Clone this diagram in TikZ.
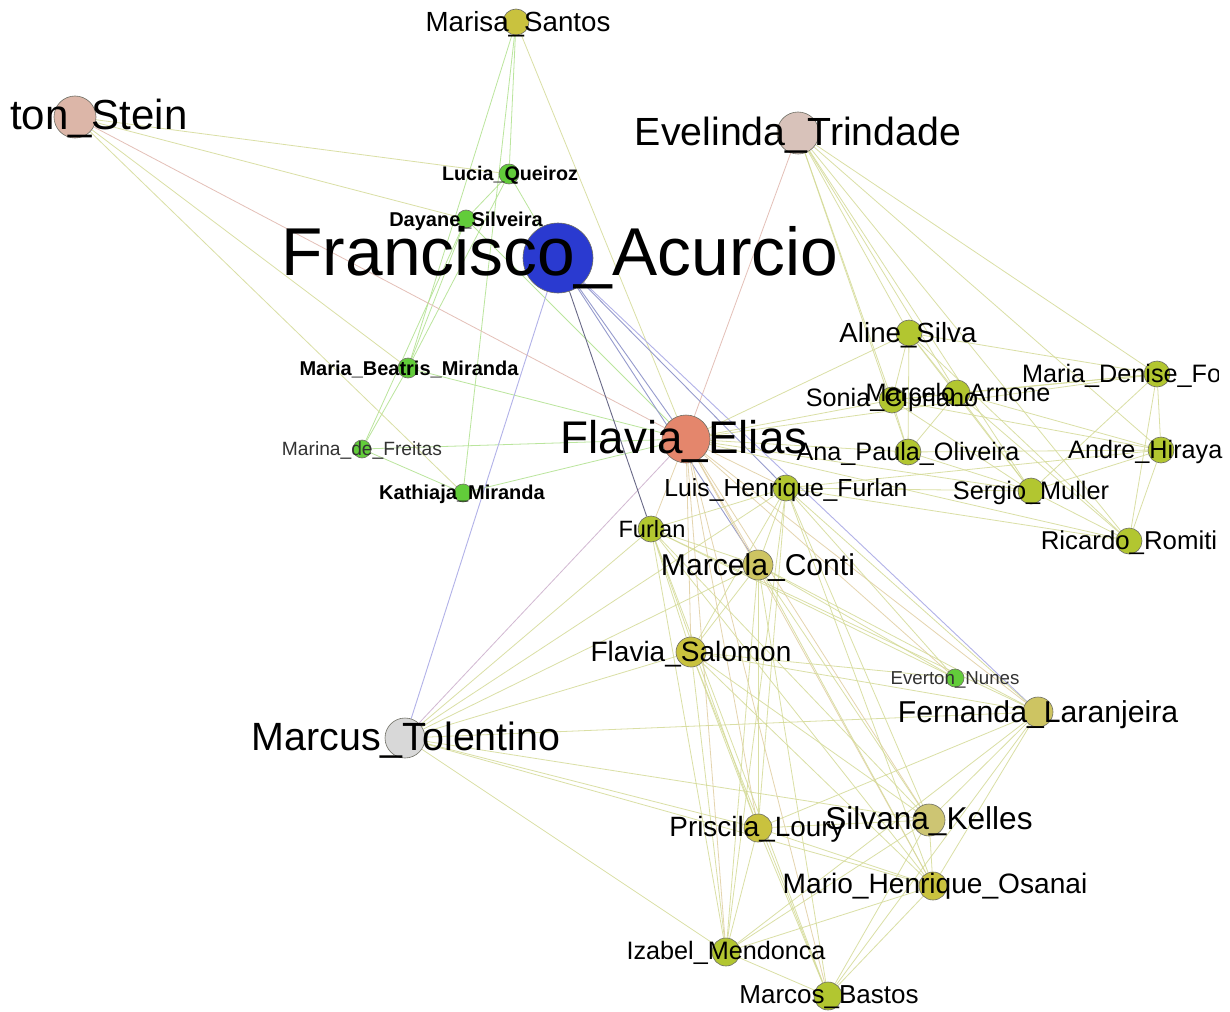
\documentclass[tikz,border=0pt]{standalone}
\usepackage{fontspec}
\setmainfont{Liberation Sans}
\usetikzlibrary{backgrounds}
\definecolor{cY}{RGB}{201,194,62}
\definecolor{cYG}{RGB}{178,198,48}
\definecolor{cYL}{RGB}{205,196,98}
\definecolor{cSK}{RGB}{205,197,115}
\definecolor{cG}{RGB}{98,204,58}
\definecolor{cB}{RGB}{42,58,208}
\definecolor{cFE}{RGB}{228,134,108}
\definecolor{cST}{RGB}{220,182,168}
\definecolor{cEV}{RGB}{216,194,186}
\definecolor{cMT}{RGB}{216,216,216}
\definecolor{ndline}{RGB}{110,110,100}
\definecolor{edY}{RGB}{212,218,150}
\definecolor{edG}{RGB}{175,225,140}
\definecolor{edP}{RGB}{228,192,184}
\definecolor{edPu}{RGB}{210,185,210}
\definecolor{edB}{RGB}{178,178,232}
\definecolor{edBG}{RGB}{150,155,205}
\definecolor{edD}{RGB}{105,105,135}
\definecolor{edT}{RGB}{224,205,160}
\definecolor{txG}{RGB}{50,50,50}
\newcommand{\fsz}[1]{\fontsize{#1}{#1}\selectfont}
\begin{document}
\begin{tikzpicture}[x=1pt,y=-1pt,
  nd/.style={circle,draw=ndline,line width=0.6pt,inner sep=0pt,minimum size=#1},
  lab/.style={anchor=base,inner sep=0pt,text=black},
  labw/.style={anchor=base west,inner sep=0pt,text=black},
  eY/.style={draw=edY,line width=0.8pt,opacity=0.85},
  eG/.style={draw=edG,line width=0.8pt,opacity=0.85},
  eP/.style={draw=edP,line width=0.8pt},
  ePu/.style={draw=edPu,line width=0.8pt},
  eB/.style={draw=edB,line width=0.9pt},
  eBG/.style={draw=edBG,line width=0.9pt},
  eD/.style={draw=edD,line width=0.9pt},
  eT/.style={draw=edT,line width=0.8pt,opacity=0.85}]
\useasboundingbox (0,0) rectangle (1230,1011);

% ---------- nodes ----------
\node[nd=26,fill=cY]  (ms)  at (516,22)  {};
\node[nd=42,fill=cST] (st)  at (75,117)  {};
\node[nd=42,fill=cEV] (ev)  at (798,133) {};
\node[nd=20,fill=cG]  (lq)  at (509,174) {};
\node[nd=18,fill=cG]  (ds)  at (466,219) {};
\node[nd=70,fill=cB]  (fa)  at (558,258) {};
\node[nd=26,fill=cYG] (as)  at (909,333) {};
\node[nd=20,fill=cG]  (mb)  at (408,368) {};
\node[nd=26,fill=cYG] (md)  at (1157,374) {};
\node[nd=26,fill=cYG] (ma)  at (957,393) {};
\node[nd=26,fill=cYG] (sc)  at (892,400) {};
\node[nd=48,fill=cFE] (fe)  at (686,439) {};
\node[nd=18,fill=cG]  (mf)  at (362,449) {};
\node[nd=26,fill=cYG] (ap)  at (908,452) {};
\node[nd=26,fill=cYG] (ah)  at (1161,450) {};
\node[nd=26,fill=cYG] (lh)  at (786,488) {};
\node[nd=18,fill=cG]  (km)  at (463,493) {};
\node[nd=26,fill=cYG] (sm)  at (1031,491) {};
\node[nd=26,fill=cYG] (fu)  at (651,529) {};
\node[nd=26,fill=cYG] (rr)  at (1129,541) {};
\node[nd=30,fill=cYL] (mc)  at (758,565) {};
\node[nd=30,fill=cY]  (fs)  at (691,652) {};
\node[nd=18,fill=cG]  (en)  at (955,678) {};
\node[nd=30,fill=cYL] (fl)  at (1038,712) {};
\node[nd=40,fill=cMT] (mt)  at (405,738) {};
\node[nd=32,fill=cSK] (sk)  at (929,820) {};
\node[nd=28,fill=cY]  (pl)  at (758,828) {};
\node[nd=28,fill=cY]  (mh)  at (933,886) {};
\node[nd=28,fill=cYG] (im)  at (726,952) {};
\node[nd=28,fill=cYG] (mbs) at (828,996) {};

% ---------- edges ----------
\begin{pgfonlayer}{background}
\fill[white] (0,0) rectangle (1230,1011);
\foreach \a/\b in {ms/lq,ms/mb,lq/ds,lq/mb,ds/mb,mb/mf,mf/km,ds/mf,lq/fa,ms/km,mb/fe,mf/fe,km/fe,ds/fe}
  \draw[eG] (\a) -- (\b);
\foreach \a/\b in {st/lq,st/ds,st/mb,st/km,ms/fe}
  \draw[eY] (\a) -- (\b);
\foreach \a/\b in {st/fe,ev/fe}
  \draw[eP] (\a) -- (\b);
\draw[ePu] (mt) -- (fe);
\draw[eB] (fa) -- (mt);
\draw[eB] (fa) -- (fl);
\draw[eD] (fa) -- (fu);
\foreach \a/\b in {fa/fe,fa/mc,fa/lh}
  \draw[eBG] (\a) -- (\b);
% right cluster
\foreach \a/\b in {ev/as,ev/sc,ev/ma,ev/ap,ev/sm,ev/rr,ev/md,ev/ah,
  as/sc,as/ma,as/ap,as/md,as/sm,as/rr,as/fe,sc/ma,sc/ap,sc/md,sc/fe,sc/ah,sc/sm,
  ma/ap,ma/sm,ma/md,ma/rr,ma/ah,ap/ah,ap/sm,ap/fe,md/ah,md/rr,md/sm,md/fe,
  ah/rr,ah/sm,sm/rr,sm/fe,rr/fe,lh/sm,lh/ah,lh/rr}
  \draw[eY] (\a) -- (\b);
% Flavia Elias to lower cluster
\foreach \a/\b in {fe/lh,fe/fu,fe/mc,fe/fs,fe/pl,fe/sk,fe/mh,fe/im,fe/mbs,fe/fl,fe/en}
  \draw[eT] (\a) -- (\b);
% lower cluster
\foreach \a/\b in {mt/fu,mt/lh,mt/mc,mt/fs,mt/fl,mt/pl,mt/sk,mt/mh,mt/im,
  fu/lh,fu/mc,fu/fs,fu/pl,fu/im,fu/mbs,fu/sk,fu/mh,fu/fl,fu/en,
  lh/mc,lh/fs,lh/pl,lh/sk,lh/mh,lh/fl,lh/en,lh/im,
  mc/fs,mc/pl,mc/sk,mc/mh,mc/im,mc/mbs,mc/fl,mc/en,
  fs/pl,fs/sk,fs/mh,fs/im,fs/mbs,fs/fl,fs/en,
  pl/sk,pl/mh,pl/im,pl/mbs,pl/fl,
  sk/mh,sk/im,sk/mbs,sk/fl,
  mh/im,mh/mbs,mh/fl,im/mbs,fl/im,fl/mbs}
  \draw[eY] (\a) -- (\b);
\end{pgfonlayer}

% ---------- labels ----------
\node[lab,font=\fsz{27.7}] (lms) at (518,32) {Marisa\_Santos};
\node[labw,font=\fsz{42}] (lst) at (10,130) {ton\_Stein};
\node[lab,font=\fsz{39.3}] (lev) at (798,146) {Evelinda\_Trindade};
\node[lab,font=\bfseries\fsz{19.7}] (llq) at (510,181) {Lucia\_Queiroz};
\node[lab,font=\bfseries\fsz{20}] (lds) at (466,226) {Dayane\_Silveira};
\node[lab,font=\fsz{67.7}] (lfa) at (560,275) {Francisco\_Acurcio};
\node[lab,font=\fsz{27.7}] (las) at (908,342) {Aline\_Silva};
\node[lab,font=\bfseries\fsz{20}] (lmb) at (409,375) {Maria\_Beatris\_Miranda};
\begin{scope}
\clip (0,0) rectangle (1218,1011);
\node[labw,font=\fsz{25.2}] (lmd) at (1022,382) {Maria\_Denise\_Fo};
\end{scope}
\node[lab,font=\fsz{25.2}] (lsc) at (892,406) {Sonia\_Cipriano};
\node[lab,font=\fsz{25.2}] (lma) at (958,401) {Marcelo\_Arnone};
\node[lab,font=\fsz{45.8}] (lfe) at (684,453) {Flavia\_Elias};
\node[lab,font=\fsz{19.2},text=txG] (lmf) at (362,455) {Marina\_de\_Freitas};
\node[lab,font=\fsz{25.2}] (lap) at (908,460) {Ana\_Paula\_Oliveira};
\node[labw,font=\fsz{25.2}] (lah) at (1068,458) {Andre\_Hiraya};
\node[lab,font=\fsz{24.7}] (llh) at (786,496) {Luis\_Henrique\_Furlan};
\node[lab,font=\bfseries\fsz{20}] (lkm) at (462,499) {Kathiaja\_Miranda};
\node[lab,font=\fsz{25.3}] (lsm) at (1031,499) {Sergio\_Muller};
\node[lab,font=\fsz{23.6}] (lfu) at (652,537) {Furlan};
\node[lab,font=\fsz{25.8}] (lrr) at (1129,549) {Ricardo\_Romiti};
\node[lab,font=\fsz{30.1}] (lmc) at (758,575) {Marcela\_Conti};
\node[lab,font=\fsz{28}] (lfs) at (691,661) {Flavia\_Salomon};
\node[lab,font=\fsz{18.7},text=txG] (len) at (955,684) {Everton\_Nunes};
\node[lab,font=\fsz{30.2}] (lfl) at (1038,722) {Fernanda\_Laranjeira};
\node[lab,font=\fsz{39.4}] (lmt) at (406,750) {Marcus\_Tolentino};
\node[lab,font=\fsz{27.9}] (lpl) at (757,836) {Priscila\_Loury};
\node[lab,font=\fsz{31.6}] (lsk) at (929,829) {Silvana\_Kelles};
\node[lab,font=\fsz{28.1}] (lmh) at (935,893) {Mario\_Henrique\_Osanai};
\node[lab,font=\fsz{25.2}] (lim) at (726,959) {Izabel\_Mendonca};
\node[lab,font=\fsz{26}] (lmbs) at (829,1003) {Marcos\_Bastos};
\end{tikzpicture}
\end{document}
